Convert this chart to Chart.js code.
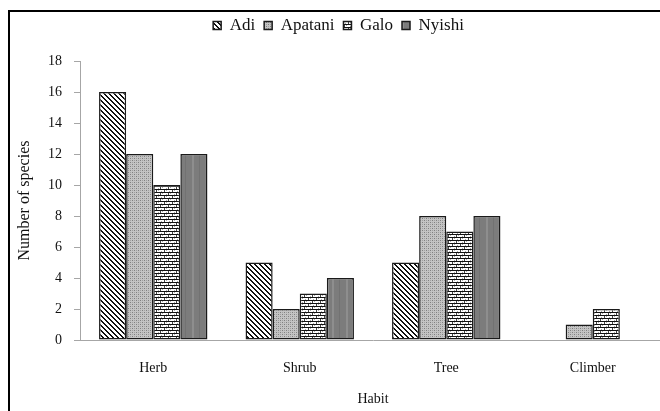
<!DOCTYPE html>
<html>
<head>
<meta charset="utf-8">
<script src="https://cdn.jsdelivr.net/npm/chart.js@4/dist/chart.umd.min.js"></script>
<style>
  html, body { margin: 0; padding: 0; background: #fff; overflow: hidden; }
  #wrap { width: 668px; height: 411px; position: relative; }
</style>
</head>
<body>
<div id="wrap"><canvas id="c" width="668" height="411"></canvas></div>
<script>
// Number of plant species per growth habit, by tribe
const habits = ['Herb', 'Shrub', 'Tree', 'Climber'];
const adi = [16, 5, 5, 0];
const apatani = [12, 2, 8, 1];
const galo = [10, 3, 7, 2];
const nyishi = [12, 4, 8, 0];
const yTicks = [0, 2, 4, 6, 8, 10, 12, 14, 16, 18];

const SERIF = '"Liberation Serif", "Times New Roman", serif';

function makeTile(w, h, paint) {
  const cv = document.createElement('canvas');
  cv.width = w; cv.height = h;
  const g = cv.getContext('2d');
  paint(g, w, h);
  return document.getElementById('c').getContext('2d').createPattern(cv, 'repeat');
}

// Adi: black diagonal hatch on white
const hatchDiag = makeTile(5, 5, (g, w, h) => {
  g.fillStyle = '#fff'; g.fillRect(0, 0, w, h);
  g.fillStyle = '#111';
  for (let i = 0; i < w; i++) {
    g.fillRect(i, i, 1, 1);
    g.fillRect((i + 1) % w, i, 1, 1);
  }
});

// Apatani: fine grey stipple
const stipple = makeTile(4, 4, (g, w, h) => {
  g.fillStyle = '#c4c4c4'; g.fillRect(0, 0, w, h);
  g.fillStyle = '#808080';
  g.fillRect(0, 0, 1, 1); g.fillRect(2, 2, 1, 1);
  g.fillStyle = '#a0a0a0';
  g.fillRect(2, 0, 1, 1); g.fillRect(0, 2, 1, 1);
});

// Galo: horizontal brick
const brick = makeTile(8, 6, (g, w, h) => {
  g.fillStyle = '#fff'; g.fillRect(0, 0, w, h);
  g.fillStyle = '#111';
  g.fillRect(0, 0, w, 1);
  g.fillRect(0, 3, w, 1);
  g.fillStyle = '#444';
  g.fillRect(0, 1, 1, 2);
  g.fillRect(4, 4, 1, 2);
  g.fillStyle = '#aaa';
  g.fillRect(2, 1, 1, 1); g.fillRect(6, 2, 1, 1);
  g.fillRect(1, 5, 1, 1); g.fillRect(6, 4, 1, 1);
});

// Nyishi: dark grey with faint vertical streaks
const darkGrey = makeTile(14, 4, (g, w, h) => {
  g.fillStyle = '#7c7c7c'; g.fillRect(0, 0, w, h);
  g.fillStyle = '#8e8e8e'; g.fillRect(10, 0, 2, h);
  g.fillStyle = '#727272'; g.fillRect(3, 0, 1, h);
});

const frame = {
  id: 'frame',
  afterDraw(chart) {
    const ctx = chart.ctx;
    ctx.save();
    ctx.fillStyle = '#000';
    ctx.fillRect(8, 10, 2, 411);
    ctx.fillRect(8, 10, 668, 2);
    ctx.restore();
  }
};

const barStyle = { borderColor: '#1a1a1a', borderWidth: 1.5, borderSkipped: false };

new Chart(document.getElementById('c'), {
  type: 'bar',
  data: {
    labels: habits,
    datasets: [
      { label: 'Adi', data: adi, backgroundColor: hatchDiag, ...barStyle },
      { label: 'Apatani', data: apatani, backgroundColor: stipple, ...barStyle },
      { label: 'Galo', data: galo, backgroundColor: brick, ...barStyle },
      { label: 'Nyishi', data: nyishi, backgroundColor: darkGrey, ...barStyle }
    ]
  },
  options: {
    responsive: false,
    animation: false,
    devicePixelRatio: 1,
    layout: { padding: { left: 11, right: 2, top: 8, bottom: 0 } },
    datasets: { bar: { categoryPercentage: 0.74, barPercentage: 1.0 } },
    plugins: {
      legend: {
        position: 'top',
        labels: {
          font: { family: SERIF, size: 17 },
          color: '#111',
          boxWidth: 8,
          boxHeight: 8,
          padding: 9
        }
      },
      // blank band between the legend and the plot
      subtitle: {
        display: true,
        text: ' ',
        weight: 100,
        padding: 0,
        font: { family: SERIF, size: 15, lineHeight: '17px' }
      },
      tooltip: { enabled: false }
    },
    scales: {
      x: {
        grid: { display: false, drawTicks: false },
        border: { display: true, color: '#a6a6a6', width: 1 },
        ticks: { font: { family: SERIF, size: 14 }, color: '#111', padding: 20 },
        title: { display: true, text: 'Habit', font: { family: SERIF, size: 14 }, color: '#111', padding: { top: 4, bottom: 3 } },
        afterFit(s) { s.height = 71; }
      },
      y: {
        min: 0,
        max: 18,
        afterBuildTicks(s) { s.ticks = yTicks.map(v => ({ value: v })); },
        grid: { drawOnChartArea: false, drawTicks: true, tickLength: 6, color: '#a6a6a6' },
        border: { display: true, color: '#a6a6a6', width: 1 },
        ticks: { font: { family: SERIF, size: 14 }, color: '#111', padding: 12 },
        title: { display: true, text: 'Number of species', font: { family: SERIF, size: 16 }, color: '#111', padding: { top: 4, bottom: 4 } },
        afterFit(s) { s.width = 80 - 11; }
      }
    }
  },
  plugins: [frame]
});
</script>
</body>
</html>
